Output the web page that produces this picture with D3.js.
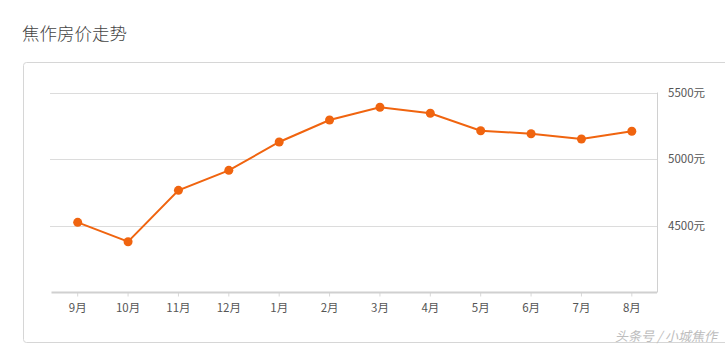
<!DOCTYPE html>
<html>
<head>
<meta charset="utf-8">
<script src="https://cdn.jsdelivr.net/npm/d3@7"></script>
<style>
  body { margin: 0; background: #fff; }
  text { font-family: "Noto Sans CJK SC", "Noto Sans", sans-serif; }
</style>
</head>
<body>
<div id="chart"></div>
<script>
// month labels and prices (元/㎡)
var months = ["9月", "10月", "11月", "12月", "1月", "2月", "3月", "4月", "5月", "6月", "7月", "8月"];
var prices = [4526, 4381, 4766, 4916, 5129, 5294, 5389, 5344, 5213, 5191, 5151, 5209];
var yTicks = [4500, 5000, 5500];
var title = "焦作房价走势";
var credit = "头条号 / 小城焦作";

var W = 725, H = 349;
var plot = { left: 52.5, right: 657, top: 92.5, bottom: 292.5 };

var svg = d3.select("#chart").append("svg")
  .attr("width", W)
  .attr("height", H);

svg.append("rect").attr("width", W).attr("height", H).attr("fill", "#fff");

svg.append("text")
  .attr("x", 22)
  .attr("y", 40)
  .attr("font-size", 17.5)
  .attr("font-weight", 300)
  .attr("fill", "#444")
  .text(title);

// card
svg.append("rect")
  .attr("x", 23.5)
  .attr("y", 62.5)
  .attr("width", 740)
  .attr("height", 280)
  .attr("rx", 3)
  .attr("fill", "none")
  .attr("stroke", "#d6d6d6");

var x = d3.scaleBand()
  .domain(months)
  .range([plot.left, plot.right]);

var y = d3.scaleLinear()
  .domain([4000, 5500])
  .range([plot.bottom, plot.top]);

// grid lines
svg.append("g").selectAll("line").data(yTicks).enter()
  .append("line")
  .attr("x1", 50)
  .attr("x2", plot.right)
  .attr("y1", function(d) { return Math.round(y(d)) + 0.5; })
  .attr("y2", function(d) { return Math.round(y(d)) + 0.5; })
  .attr("stroke", "#dcdcdc");

// right axis
var yAxis = svg.append("g")
  .attr("transform", "translate(" + plot.right + ",0)")
  .call(d3.axisRight(y).tickValues(yTicks).tickSize(0).tickPadding(11)
    .tickFormat(function(d) { return d + "元"; }));
yAxis.select(".domain").remove();
yAxis.append("line")
  .attr("x1", 0.5).attr("x2", 0.5)
  .attr("y1", plot.top).attr("y2", plot.bottom)
  .attr("stroke", "#d0d0d0");
yAxis.selectAll("text")
  .attr("font-size", 11.5)
  .attr("fill", "#555")
  .style("font-family", "'Noto Sans CJK SC', sans-serif");

// bottom axis
var xAxis = svg.append("g")
  .attr("transform", "translate(0," + plot.bottom + ")")
  .call(d3.axisBottom(x).tickSize(4).tickPadding(7));
xAxis.select(".domain").remove();
xAxis.append("line")
  .attr("x1", plot.left - 1).attr("x2", plot.right)
  .attr("y1", 0).attr("y2", 0)
  .attr("stroke", "#d0d0d0")
  .attr("stroke-width", 2);
xAxis.selectAll(".tick line").attr("stroke", "#d8d8d8");
xAxis.selectAll("text")
  .attr("font-size", 11.5)
  .attr("fill", "#555")
  .style("font-family", "'Noto Sans CJK SC', sans-serif");

var cx = function(d, i) { return x(months[i]) + x.bandwidth() / 2; };

var line = d3.line()
  .x(function(d, i) { return cx(d, i); })
  .y(function(d) { return y(d); });

svg.append("path")
  .datum(prices)
  .attr("d", line)
  .attr("fill", "none")
  .attr("stroke", "#f0640f")
  .attr("stroke-width", 2);

svg.selectAll(".dot").data(prices).enter()
  .append("circle")
  .attr("class", "dot")
  .attr("r", 4.5)
  .attr("cx", cx)
  .attr("cy", function(d) { return y(d); })
  .attr("fill", "#f0640f");

svg.append("text")
  .attr("x", 717)
  .attr("y", 341)
  .attr("text-anchor", "end")
  .attr("font-size", 13)
  .attr("font-style", "italic")
  .attr("fill", "#bdbdbd")
  .text(credit);
</script>
</body>
</html>
